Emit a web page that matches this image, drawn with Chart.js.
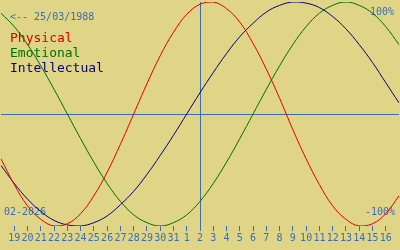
<!DOCTYPE html>
<html>
<head>
<meta charset="utf-8">
<script src="https://cdn.jsdelivr.net/npm/chart.js@4/dist/chart.umd.min.js"></script>
<style>
  html, body { margin: 0; padding: 0; background: #e0d486; }
  #wrap { width: 400px; height: 250px; }
</style>
</head>
<body>
<div id="wrap"><canvas id="bioChart" width="400" height="250"></canvas></div>
<script>
// days shown: 18 Jan .. 17 Feb 2026 (today = 2 Feb)
var days = ["18","19","20","21","22","23","24","25","26","27","28","29","30","31",
            "1","2","3","4","5","6","7","8","9","10","11","12","13","14","15","16","17"];
var todayIndex = 15;

var physical = [-0.40, -0.63, -0.82, -0.94, -1.00, -0.98, -0.89, -0.73, -0.52, -0.27, 0.00,
                 0.27, 0.52, 0.73, 0.89, 0.98, 1.00, 0.94, 0.82, 0.63, 0.40, 0.14,
                -0.14, -0.40, -0.63, -0.82, -0.94, -1.00, -0.98, -0.89, -0.73];
var emotional = [0.90, 0.78, 0.62, 0.43, 0.22, 0.00, -0.22, -0.43, -0.62, -0.78, -0.90,
                -0.97, -1.00, -0.97, -0.90, -0.78, -0.62, -0.43, -0.22, 0.00, 0.22, 0.43,
                 0.62, 0.78, 0.90, 0.97, 1.00, 0.97, 0.90, 0.78, 0.62];
var intellectual = [-0.46, -0.62, -0.76, -0.87, -0.95, -0.99, -1.00, -0.97, -0.91, -0.81, -0.69,
                   -0.54, -0.37, -0.19, 0.00, 0.19, 0.37, 0.54, 0.69, 0.81, 0.91, 0.97,
                    1.00, 0.99, 0.95, 0.87, 0.76, 0.62, 0.46, 0.28, 0.10];

var blue = "#3b6db3";
var mono = "'DejaVu Sans Mono', monospace";

// texts under the curves
var textPlugin = {
    id: 'bioText',
    beforeDatasetsDraw: function(chart) {
        var c = chart.ctx;
        c.save();
        c.font = "10px " + mono;
        c.fillStyle = blue;
        c.textBaseline = 'middle';
        c.textAlign = 'left';
        c.fillText("<-- 25/03/1988", 10, 17);
        c.fillText("02-2026", 4, 212);
        c.textAlign = 'right';
        c.fillText("100%", 394, 12);
        c.fillText("-100%", 395, 212);

        c.font = "13px " + mono;
        c.textAlign = 'left';
        c.textBaseline = 'alphabetic';
        c.fillStyle = "#dd0000";
        c.fillText("Physical", 10, 42);
        c.fillStyle = "#007000";
        c.fillText("Emotional", 10, 57);
        c.fillStyle = "#000080";
        c.fillText("Intellectual", 10, 72);
        c.restore();
    }
};

window.onload = function(){
    var ctx = document.getElementById("bioChart").getContext('2d');
    var bioChart = new Chart(ctx, {
        type: 'line',
        data: {
            labels: days,
            datasets: [
                { label: 'Physical', data: physical, borderColor: "#dd0000" },
                { label: 'Emotional', data: emotional, borderColor: "#007000" },
                { label: 'Intellectual', data: intellectual, borderColor: "#000080" }
            ]
        },
        options: {
            responsive: false,
            animation: false,
            layout: { padding: { top: 2, bottom: 5, left: 0, right: 0 } },
            elements: {
                line: { borderWidth: 1, tension: 0.4, fill: false },
                point: { radius: 0 }
            },
            plugins: {
                legend: { display: false },
                tooltip: { enabled: false }
            },
            scales: {
                x: {
                    offset: false,
                    border: { display: false },
                    grid: {
                        offset: false,
                        tickLength: 5,
                        color: function(c) { return c.index === todayIndex ? blue : 'transparent'; },
                        tickColor: function(c) {
                            return (c.index === 0 || c.index === days.length - 1) ? 'transparent' : blue;
                        }
                    },
                    ticks: {
                        autoSkip: false,
                        maxRotation: 0,
                        minRotation: 0,
                        padding: 1,
                        color: blue,
                        font: { family: mono, size: 10 },
                        callback: function(v, i) {
                            return (i === 0 || i === days.length - 1) ? '' : days[i];
                        }
                    }
                },
                y: {
                    min: -1,
                    max: 1,
                    border: { display: false },
                    grid: {
                        drawTicks: false,
                        color: function(c) { return c.tick.value === 0 ? blue : 'transparent'; }
                    },
                    ticks: { display: false, stepSize: 1 }
                }
            }
        },
        plugins: [textPlugin]
    });
}
</script>
</body>
</html>
